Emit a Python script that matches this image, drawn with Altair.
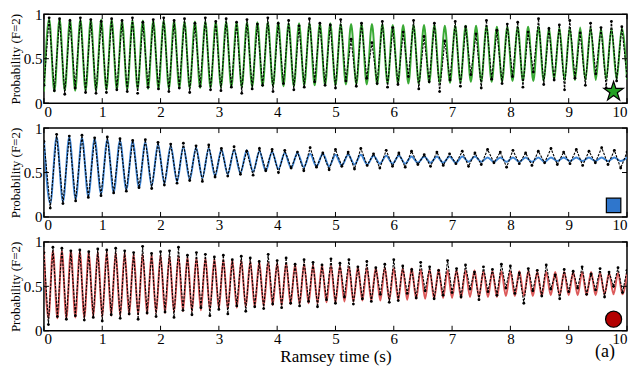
import altair as alt
import numpy as np
import pandas as pd

# ---------------- data ----------------
# Panel 1 (green fit, star): extrema alternate trough/peak, starting with a trough at t=0
G_HALF = 0.08929  # half oscillation period (s)
g_fit_trough = [0.13, 0.13, 0.14, 0.14, 0.14, 0.14,
                0.15, 0.15, 0.15, 0.16, 0.16, 0.16,
                0.16, 0.17, 0.17, 0.17, 0.17,
                0.18, 0.18, 0.18, 0.18, 0.19, 0.19,
                0.19, 0.19, 0.20, 0.20, 0.20,
                0.20, 0.21, 0.21, 0.21, 0.21, 0.22,
                0.22, 0.22, 0.22, 0.23, 0.23, 0.23,
                0.23, 0.24, 0.24, 0.24, 0.24,
                0.25, 0.25, 0.25, 0.25, 0.26, 0.26,
                0.26, 0.26, 0.26, 0.27, 0.27, 0.27]
g_fit_peak = [0.95, 0.95, 0.94, 0.94, 0.94, 0.94,
              0.94, 0.93, 0.93, 0.93, 0.93, 0.93,
              0.93, 0.92, 0.92, 0.92, 0.92,
              0.92, 0.91, 0.91, 0.91, 0.91, 0.91,
              0.90, 0.90, 0.90, 0.90, 0.90,
              0.89, 0.89, 0.89, 0.89, 0.89, 0.88,
              0.88, 0.88, 0.88, 0.88, 0.87, 0.87,
              0.87, 0.87, 0.87, 0.86, 0.86,
              0.86, 0.86, 0.86, 0.85, 0.85, 0.85,
              0.85, 0.85, 0.84, 0.84, 0.84]
g_dat_trough = [0.20, 0.14, 0.10, 0.17, 0.12, 0.11,
                0.12, 0.15, 0.13, 0.11, 0.18, 0.16,
                0.13, 0.17, 0.12, 0.19, 0.15,
                0.14, 0.18, 0.11, 0.16, 0.20, 0.13,
                0.22, 0.15, 0.18, 0.24, 0.20,
                0.17, 0.25, 0.19, 0.28, 0.22, 0.18,
                0.21, 0.30, 0.16, 0.24, 0.13, 0.26,
                0.19, 0.32, 0.17, 0.27, 0.22,
                0.30, 0.18, 0.35, 0.21, 0.26, 0.15,
                0.28, 0.20, 0.33, 0.17, 0.25, 0.30]
g_dat_peak = [0.96, 0.95, 0.93, 0.96, 0.94, 0.92,
              0.95, 0.93, 0.96, 0.91, 0.94, 0.96,
              0.93, 0.95, 0.90, 0.96, 0.92,
              0.95, 0.91, 0.94, 0.89, 0.96, 0.90,
              0.93, 0.87, 0.95, 0.90, 0.88,
              0.94, 0.72, 0.90, 0.68, 0.92, 0.85,
              0.80, 0.93, 0.75, 0.90, 0.70, 0.92,
              0.86, 0.78, 0.93, 0.82, 0.89,
              0.91, 0.80, 0.95, 0.84, 0.88, 0.93,
              0.79, 0.90, 0.85, 0.92, 0.86]

# Panel 2 (blue fit, square): extrema alternate peak/trough, starting with a peak at t=0
B_HALF = 0.10870
b_fit_peak = [0.86,
              0.90, 0.90, 0.89, 0.88,
              0.87, 0.86, 0.85, 0.84, 0.82,
              0.80, 0.79, 0.78, 0.77,
              0.76, 0.75, 0.75, 0.74, 0.73,
              0.72, 0.72, 0.71, 0.71,
              0.70, 0.70, 0.70, 0.69, 0.69,
              0.69, 0.68, 0.68, 0.68, 0.68,
              0.68, 0.68, 0.67, 0.67,
              0.67, 0.67, 0.67, 0.67, 0.67,
              0.67, 0.67, 0.67, 0.67, 0.67]
b_fit_trough = [0.15, 0.17, 0.20, 0.23, 0.26,
                0.28, 0.31, 0.33, 0.35,
                0.38, 0.40, 0.42, 0.44, 0.46,
                0.48, 0.49, 0.51, 0.52,
                0.54, 0.55, 0.56, 0.57, 0.57,
                0.58, 0.59, 0.59, 0.60, 0.60,
                0.60, 0.61, 0.61, 0.61,
                0.61, 0.62, 0.62, 0.62, 0.62,
                0.62, 0.62, 0.62, 0.63, 0.63,
                0.63, 0.63, 0.63, 0.63]
b_dat_peak = [0.85,
              0.93, 0.91, 0.92, 0.89,
              0.90, 0.88, 0.86, 0.87, 0.84,
              0.82, 0.83, 0.80, 0.81,
              0.77, 0.79, 0.74, 0.77, 0.76,
              0.75, 0.73, 0.78, 0.72,
              0.76, 0.73, 0.77, 0.71, 0.75,
              0.72, 0.74, 0.70, 0.73, 0.71,
              0.74, 0.72, 0.76, 0.73,
              0.75, 0.72, 0.74, 0.77, 0.73,
              0.76, 0.74, 0.78, 0.75, 0.73]
b_dat_trough = [0.10, 0.15, 0.18, 0.22, 0.24,
                0.27, 0.29, 0.33, 0.32,
                0.36, 0.38, 0.41, 0.40, 0.45,
                0.46, 0.48, 0.47, 0.52,
                0.50, 0.55, 0.52, 0.56, 0.53,
                0.57, 0.54, 0.58, 0.55, 0.57,
                0.56, 0.59, 0.57, 0.58,
                0.60, 0.57, 0.59, 0.61, 0.56,
                0.60, 0.58, 0.61, 0.59, 0.60,
                0.58, 0.61, 0.59, 0.55]

# Panel 3 (red fit, circle): extrema alternate peak/trough, starting with a peak at t=0
R_HALF = 0.07692
r_fit_peak = [0.90, 0.90, 0.90, 0.90, 0.89, 0.89, 0.89,
              0.89, 0.88, 0.88, 0.87, 0.86, 0.86,
              0.85, 0.84, 0.84, 0.83, 0.82, 0.82, 0.81,
              0.80, 0.80, 0.79, 0.78, 0.78, 0.77,
              0.76, 0.76, 0.75, 0.75, 0.74, 0.74, 0.73,
              0.73, 0.72, 0.72, 0.71, 0.71, 0.71,
              0.70, 0.70, 0.70, 0.69, 0.69, 0.69, 0.68,
              0.68, 0.68, 0.68, 0.67, 0.67, 0.67,
              0.67, 0.67, 0.67, 0.66, 0.66, 0.66, 0.66,
              0.66, 0.66, 0.66, 0.65, 0.65, 0.65, 0.65]
r_fit_trough = [0.14, 0.14, 0.14, 0.15, 0.15, 0.16,
                0.16, 0.17, 0.17, 0.18, 0.18, 0.19, 0.20,
                0.20, 0.21, 0.22, 0.22, 0.23, 0.24,
                0.25, 0.25, 0.26, 0.27, 0.27, 0.28, 0.29,
                0.29, 0.30, 0.30, 0.31, 0.31, 0.32,
                0.32, 0.33, 0.33, 0.34, 0.34, 0.34, 0.35,
                0.35, 0.35, 0.36, 0.36, 0.36, 0.37,
                0.37, 0.37, 0.38, 0.38, 0.38, 0.38, 0.39,
                0.39, 0.39, 0.39, 0.39, 0.40, 0.40,
                0.40, 0.40, 0.40, 0.40, 0.41, 0.41, 0.41]
r_dat_peak = [0.88, 0.94, 0.93, 0.90, 0.91, 0.89, 0.92,
              0.91, 0.93, 0.90, 0.88, 0.95, 0.87,
              0.89, 0.90, 0.94, 0.85, 0.88, 0.86, 0.83,
              0.85, 0.80, 0.84, 0.82, 0.78, 0.86,
              0.79, 0.82, 0.75, 0.80, 0.77, 0.74, 0.81,
              0.76, 0.80, 0.72, 0.78, 0.71, 0.75,
              0.80, 0.73, 0.69, 0.77, 0.72, 0.68, 0.79,
              0.70, 0.74, 0.66, 0.72, 0.69, 0.75,
              0.73, 0.65, 0.70, 0.68, 0.74, 0.63, 0.69,
              0.67, 0.72, 0.64, 0.70, 0.66, 0.71, 0.68]
r_dat_trough = [0.07, 0.16, 0.13, 0.17, 0.12, 0.15,
                0.11, 0.18, 0.14, 0.19, 0.13, 0.20, 0.16,
                0.21, 0.15, 0.23, 0.18, 0.26, 0.17,
                0.24, 0.19, 0.28, 0.22, 0.27, 0.25, 0.30,
                0.26, 0.31, 0.28, 0.33, 0.27, 0.35,
                0.31, 0.38, 0.30, 0.36, 0.33, 0.41, 0.32,
                0.34, 0.42, 0.37, 0.45, 0.36, 0.40,
                0.43, 0.38, 0.47, 0.35, 0.44, 0.40, 0.48,
                0.42, 0.31, 0.45, 0.39, 0.47, 0.36,
                0.44, 0.48, 0.41, 0.46, 0.38, 0.50, 0.43]

x_ticks = [0, 1, 2, 3, 4, 5, 6, 7, 8, 9, 10]
y_ticks = [0, 0.5, 1]
marker_t = [9.77]
marker_p = [0.13]
x_title = "Ramsey time (s)"
y_title = "Probability (F=2)"
panel_label = ["(a)"]

STAR = ("M0,-1L0.2245,-0.309L0.9511,-0.309L0.3633,0.118L0.5878,0.809L0,0.382"
        "L-0.5878,0.809L-0.3633,0.118L-0.9511,-0.309L-0.2245,-0.309Z")

W, H = 584, 89
SERIF = "Liberation Serif"


def interleave(first, second):
    n = len(first) + len(second)
    return [first[i // 2] if i % 2 == 0 else second[i // 2] for i in range(n)]


def make_df(half, fit_a, fit_b, dat_a, dat_b):
    fit = interleave(fit_a, fit_b)
    dat = interleave(dat_a, dat_b)
    t = np.arange(len(fit)) * half
    return pd.DataFrame({"t": t, "fit": fit, "dat": dat})


def xenc(last):
    ax = dict(values=x_ticks, labelExpr="datum.value", ticks=False, domain=False,
              grid=False, labelPadding=1, labelFontSize=15, labelFont=SERIF,
              labelColor="black")
    if last:
        ax.update(title=x_title, titleFontSize=17, titleFont=SERIF,
                  titleFontWeight="normal", titleColor="black", titlePadding=2)
    else:
        ax.update(title=None)
    return alt.X("t:Q", scale=alt.Scale(domain=[0, 10], nice=False, zero=False),
                 axis=alt.Axis(**ax))


def yenc(field):
    return alt.Y(f"{field}:Q", scale=alt.Scale(domain=[0, 1], nice=False, zero=False),
                 axis=alt.Axis(values=y_ticks, labelExpr="datum.value", ticks=False,
                               domain=False, grid=False, labelPadding=2,
                               labelFontSize=15, labelFont=SERIF, labelColor="black",
                               title=y_title, titleFont=SERIF, titleFontSize=13,
                               titleFontWeight="normal", titleColor="black",
                               titlePadding=1))


def panel(df, color, shape, msize, mfill, last=False):
    x = xenc(last)
    fline = alt.Chart(df).mark_line(color=color, strokeWidth=2, interpolate="monotone",
                                    clip=True).encode(x=x, y=yenc("fit"))
    dline = alt.Chart(df).mark_line(color="black", strokeWidth=1.1, strokeDash=[2.5, 1.2],
                                    clip=True).encode(x=x, y=yenc("dat"))
    dpts = alt.Chart(df).mark_circle(color="black", size=8, opacity=1,
                                     clip=True).encode(x=x, y=yenc("dat"))
    xt = pd.DataFrame({"t": x_ticks})
    yt = pd.DataFrame({"p": y_ticks})
    top = alt.Chart(xt).mark_rule(color="black", strokeWidth=1).encode(
        x=x, y=alt.value(0), y2=alt.value(5))
    bot = alt.Chart(xt).mark_rule(color="black", strokeWidth=1).encode(
        x=x, y=alt.value(H), y2=alt.value(H - 5))
    lef = alt.Chart(yt).mark_rule(color="black", strokeWidth=1).encode(
        y=yenc("p"), x=alt.value(0), x2=alt.value(5))
    rig = alt.Chart(yt).mark_rule(color="black", strokeWidth=1).encode(
        y=yenc("p"), x=alt.value(W), x2=alt.value(W - 5))
    mk = alt.Chart(pd.DataFrame({"t": marker_t, "p": marker_p})).mark_point(
        shape=shape, size=msize, filled=True, fill=mfill, stroke="black",
        strokeWidth=1.2, opacity=1).encode(x=x, y=yenc("p"))
    layers = [fline, dline, dpts, top, bot, lef, rig, mk]
    if last:
        lab = alt.Chart(pd.DataFrame({"label": panel_label})).mark_text(
            font=SERIF, fontSize=18, color="black", align="center",
            baseline="middle").encode(text="label:N", x=alt.value(W - 22),
                                      y=alt.value(H + 21))
        layers.append(lab)
    return alt.layer(*layers).properties(width=W, height=H)


df_g = make_df(G_HALF, g_fit_trough, g_fit_peak, g_dat_trough, g_dat_peak)
df_b = make_df(B_HALF, b_fit_peak, b_fit_trough, b_dat_peak, b_dat_trough)
df_r = make_df(R_HALF, r_fit_peak, r_fit_trough, r_dat_peak, r_dat_trough)

p1 = panel(df_g, "#3aa935", STAR, 420, "#23a023")
p2 = panel(df_b, "#3f86d6", "square", 210, "#2f76cc")
p3 = panel(df_r, "#dc5a5a", "circle", 260, "#b30000", last=True)

chart = alt.vconcat(p1, p2, p3, spacing=25, bounds="flush").properties(
    padding={"left": 0, "top": -2, "right": 0, "bottom": 0}
).configure_view(stroke="black", strokeWidth=1.5)

chart.save("out.html", embed_options={"renderer": "svg", "actions": False})
